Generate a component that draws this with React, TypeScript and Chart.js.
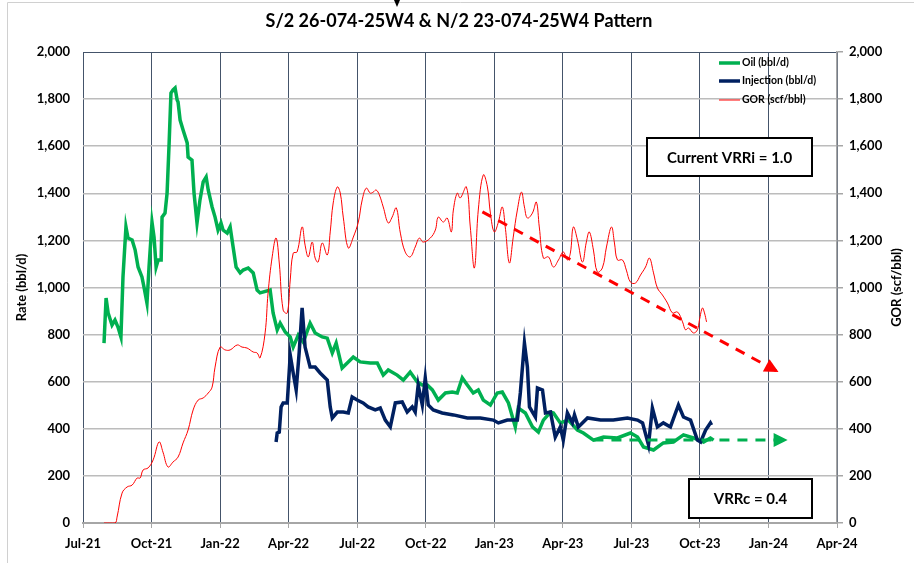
import React, { useEffect, useRef } from "react";
import { Chart, registerables } from "chart.js";

Chart.register(...registerables);

// x values are months elapsed since Jul-2021
const xTickLabels = ["Jul-21", "Oct-21", "Jan-22", "Apr-22", "Jul-22", "Oct-22", "Jan-23", "Apr-23", "Jul-23", "Oct-23", "Jan-24", "Apr-24"];

const oilMonths = [0.92, 1.01, 1.10, 1.27, 1.40, 1.53, 1.66, 1.75, 1.88, 1.97, 2.15, 2.28, 2.41, 2.58, 2.67, 2.80, 2.89, 3.02, 3.11, 3.20, 3.29, 3.42, 3.46, 3.59, 3.68, 3.77, 3.85, 3.94, 4.03, 4.12, 4.16, 4.25, 4.38, 4.56, 4.60, 4.77, 4.86, 4.99, 5.12, 5.26, 5.39, 5.48, 5.65, 5.78, 5.91, 6.04, 6.13, 6.31, 6.44, 6.57, 6.70, 6.88, 7.01, 7.23, 7.45, 7.62, 7.75, 8.19, 8.32, 8.50, 8.63, 8.85, 9.07, 9.20, 9.42, 9.64, 9.94, 10.16, 10.47, 10.69, 10.91, 11.08, 11.34, 11.61, 11.83, 12.13, 12.57, 12.88, 13.14, 13.36, 13.75, 14.02, 14.32, 14.63, 14.85, 15.07, 15.29, 15.55, 15.86, 16.16, 16.38, 16.60, 16.82, 17.08, 17.30, 17.52, 17.83, 18.13, 18.35, 18.62, 18.92, 19.05, 19.36, 19.67, 19.93, 20.15, 20.46, 20.59, 20.89, 21.24, 21.64, 21.90, 22.34, 22.78, 23.39, 23.96, 24.27, 24.53, 24.97, 25.40, 25.84, 26.28, 26.72, 27.16, 27.46, 27.60];
const oilRate = [764, 955, 892, 841, 862, 832, 790, 1045, 1257, 1210, 1202, 1160, 1087, 1045, 1002, 934, 1087, 1278, 1214, 1087, 1117, 1117, 1299, 1316, 1401, 1614, 1826, 1839, 1847, 1796, 1788, 1711, 1669, 1614, 1554, 1541, 1401, 1274, 1372, 1448, 1469, 1414, 1342, 1299, 1244, 1274, 1244, 1231, 1257, 1172, 1087, 1062, 1074, 1083, 1062, 989, 977, 989, 892, 820, 849, 811, 790, 747, 798, 768, 849, 807, 790, 785, 722, 764, 658, 684, 705, 684, 679, 679, 628, 650, 628, 607, 641, 599, 586, 586, 565, 522, 552, 556, 552, 616, 586, 552, 565, 522, 501, 552, 556, 510, 408, 488, 467, 408, 386, 437, 471, 467, 425, 437, 395, 382, 352, 365, 361, 382, 365, 323, 310, 340, 344, 374, 361, 344, 361, 352];

const injMonths = [8.45, 8.50, 8.59, 8.67, 8.76, 8.94, 9.07, 9.20, 9.33, 9.46, 9.59, 9.72, 9.94, 10.16, 10.38, 10.69, 10.82, 10.91, 11.13, 11.39, 11.61, 11.78, 12.00, 12.26, 12.48, 12.79, 13.01, 13.23, 13.45, 13.67, 13.97, 14.19, 14.41, 14.54, 14.67, 14.85, 14.98, 15.11, 15.33, 15.72, 16.21, 16.82, 17.39, 17.96, 18.18, 18.57, 19.01, 19.14, 19.32, 19.45, 19.54, 19.80, 19.89, 20.11, 20.24, 20.46, 20.67, 20.89, 21.02, 21.20, 21.42, 21.51, 21.68, 22.08, 22.65, 23.21, 23.83, 24.27, 24.49, 24.75, 24.92, 25.14, 25.40, 25.71, 26.06, 26.28, 26.59, 26.89, 27.03, 27.25, 27.46, 27.51];
const injRate = [344, 382, 386, 493, 510, 510, 713, 637, 565, 722, 913, 747, 662, 662, 637, 607, 493, 446, 471, 471, 467, 535, 522, 510, 493, 480, 488, 437, 408, 510, 514, 471, 493, 471, 586, 501, 616, 501, 480, 467, 459, 446, 446, 437, 425, 437, 437, 552, 764, 662, 493, 450, 573, 565, 467, 471, 365, 408, 352, 467, 425, 459, 408, 446, 437, 437, 446, 437, 425, 331, 488, 408, 425, 408, 501, 450, 437, 352, 344, 395, 425, 416];

const gorMonths = [0.92, 1.40, 1.49, 1.71, 1.93, 2.15, 2.37, 2.50, 2.63, 2.85, 3.07, 3.33, 3.50, 3.72, 3.94, 4.16, 4.38, 4.60, 4.82, 5.04, 5.26, 5.48, 5.65, 5.78, 6.00, 6.22, 6.44, 6.75, 6.96, 7.18, 7.45, 7.62, 7.75, 7.97, 8.10, 8.28, 8.45, 8.59, 8.76, 8.94, 9.07, 9.20, 9.37, 9.59, 9.72, 9.86, 10.03, 10.16, 10.29, 10.47, 10.69, 10.82, 10.95, 11.13, 11.26, 11.39, 11.61, 11.83, 12.05, 12.22, 12.40, 12.57, 12.70, 12.83, 12.97, 13.14, 13.36, 13.53, 13.71, 13.89, 14.10, 14.32, 14.54, 14.72, 14.89, 15.20, 15.42, 15.55, 15.77, 15.94, 16.12, 16.21, 16.38, 16.51, 16.78, 16.95, 17.13, 17.30, 17.52, 17.70, 17.83, 18.00, 18.18, 18.35, 18.48, 18.66, 18.83, 19.01, 19.19, 19.32, 19.45, 19.67, 19.84, 19.97, 20.15, 20.37, 20.59, 20.81, 21.02, 21.20, 21.33, 21.46, 21.64, 21.86, 22.03, 22.16, 22.34, 22.51, 22.73, 22.91, 23.13, 23.26, 23.39, 23.61, 23.78, 23.96, 24.18, 24.40, 24.62, 24.79, 24.97, 25.14, 25.36, 25.58, 25.80, 26.02, 26.24, 26.37, 26.50, 26.72, 26.89, 26.98, 27.11, 27.20, 27.29];
const gorValue = [0, 0, 25, 127, 153, 161, 191, 191, 225, 234, 268, 344, 301, 238, 259, 280, 340, 395, 480, 522, 531, 552, 577, 662, 747, 735, 735, 756, 747, 743, 726, 722, 701, 807, 977, 1130, 1210, 1104, 904, 892, 1032, 1146, 1151, 1257, 1180, 1130, 1193, 1125, 1108, 1189, 1138, 1236, 1359, 1427, 1401, 1299, 1168, 1214, 1278, 1372, 1422, 1401, 1405, 1414, 1393, 1342, 1274, 1299, 1338, 1231, 1151, 1130, 1172, 1210, 1193, 1210, 1244, 1299, 1278, 1295, 1236, 1329, 1401, 1380, 1427, 1257, 1083, 1329, 1478, 1427, 1316, 1236, 1278, 1342, 1257, 1104, 1214, 1329, 1405, 1342, 1295, 1316, 1363, 1257, 1125, 1130, 1087, 1117, 1151, 1117, 1146, 1257, 1202, 1108, 1193, 1236, 1159, 1066, 1083, 1172, 1257, 1189, 1117, 1117, 1074, 1023, 1019, 1053, 1087, 1125, 1062, 998, 968, 934, 892, 896, 854, 820, 828, 807, 820, 862, 913, 892, 854];

const gorTrendMonths = [17.48, 30.44];
const gorTrendValue = [1321, 641];
const oilTrendMonths = [22.34, 30.84];
const oilTrendValue = [352, 352];

const seriesNames = ["Oil (bbl/d)", "Injection (bbl/d)", "GOR (scf/bbl)"];
const chartTitle = "S/2 26-074-25W4 & N/2 23-074-25W4 Pattern";
const boxTexts = ["Current VRRi = 1.0", "VRRc = 0.4"];

const GREEN = "#00b050";
const NAVY = "#002060";
const RED = "#ff0000";
const FONT = "Lato, 'Open Sans', sans-serif";

const pts = (xs: number[], ys: number[]) => xs.map((x, i) => ({ x, y: ys[i] }));

const overlay = {
  id: "overlay",
  afterDatasetsDraw(chart: any) {
    const ctx = chart.ctx;
    chart.data.datasets.forEach((ds: any, i: number) => {
      if (!ds.arrow) return;
      const d = chart.getDatasetMeta(i).data;
      const a = d[d.length - 1];
      const b = d[d.length - 2];
      const ang = Math.atan2(a.y - b.y, a.x - b.x);
      const L = 14, W = 7;
      ctx.save();
      ctx.translate(a.x, a.y);
      ctx.rotate(ang);
      ctx.beginPath();
      ctx.moveTo(0, 0);
      ctx.lineTo(-L, -W);
      ctx.lineTo(-L, W);
      ctx.closePath();
      ctx.fillStyle = ds.borderColor;
      ctx.fill();
      ctx.restore();
    });
  },
  afterDraw(chart: any) {
    const ctx = chart.ctx;
    const ca = chart.chartArea;
    ctx.save();
    // outer frame
    ctx.strokeStyle = "#d0d0d0";
    ctx.lineWidth = 1;
    ctx.beginPath();
    ctx.moveTo(7.5, 563);
    ctx.lineTo(7.5, 2.5);
    ctx.lineTo(914, 2.5);
    ctx.stroke();
    ctx.fillStyle = "#000";
    ctx.beginPath();
    ctx.moveTo(394, 0);
    ctx.lineTo(400, 0);
    ctx.lineTo(397, 7);
    ctx.closePath();
    ctx.fill();
    // title
    ctx.fillStyle = "#000";
    ctx.font = `bold 18px ${FONT}`;
    ctx.textAlign = "center";
    ctx.textBaseline = "middle";
    ctx.fillText(chartTitle, 459, 21);
    // axis titles
    ctx.font = `bold 13px ${FONT}`;
    ctx.save();
    ctx.translate(22, (ca.top + ca.bottom) / 2);
    ctx.rotate(-Math.PI / 2);
    ctx.fillText("Rate (bbl/d)", 0, 0);
    ctx.restore();
    ctx.save();
    ctx.translate(897, (ca.top + ca.bottom) / 2);
    ctx.rotate(-Math.PI / 2);
    ctx.fillText("GOR (scf/bbl)", 0, 0);
    ctx.restore();
    // legend
    const colors = [GREEN, NAVY, RED];
    const widths = [3.5, 3.5, 1];
    const lx = ca.right - 118;
    const rows = [ca.top + 11, ca.top + 29, ca.top + 48];
    ctx.textAlign = "left";
    ctx.font = `bold 10.5px ${FONT}`;
    seriesNames.forEach((n, i) => {
      ctx.strokeStyle = colors[i];
      ctx.lineWidth = widths[i];
      ctx.beginPath();
      ctx.moveTo(lx, rows[i]);
      ctx.lineTo(lx + 21, rows[i]);
      ctx.stroke();
      ctx.fillStyle = "#000";
      ctx.fillText(n, lx + 23, rows[i]);
    });
    // text boxes
    const boxes = [
      { x: 647, y: 138, w: 165, h: 38 },
      { x: 689, y: 479, w: 123, h: 39 },
    ];
    boxes.forEach((b, i) => {
      ctx.fillStyle = "#fff";
      ctx.fillRect(b.x, b.y, b.w, b.h);
      ctx.strokeStyle = "#000";
      ctx.lineWidth = 2;
      ctx.strokeRect(b.x, b.y, b.w, b.h);
      ctx.fillStyle = "#000";
      ctx.font = `bold 15px ${FONT}`;
      ctx.textAlign = "center";
      ctx.fillText(boxTexts[i], b.x + b.w / 2, b.y + b.h / 2 + 1);
    });
    ctx.restore();
  },
};

export default function App() {
  const ref = useRef<HTMLCanvasElement>(null);
  useEffect(() => {
    if (!ref.current) return;
    const tickFont = { family: FONT, size: 13, weight: "bold" as const };
    const chart = new Chart(ref.current, {
      type: "line",
      data: {
        datasets: [
          { label: "gorTrend", data: pts(gorTrendMonths, gorTrendValue), borderColor: RED, borderWidth: 3, borderDash: [10, 8], pointRadius: 0, yAxisID: "y2", order: 0, arrow: true } as any,
          { label: "oilTrend", data: pts(oilTrendMonths, oilTrendValue), borderColor: GREEN, borderWidth: 3, borderDash: [10, 8], pointRadius: 0, yAxisID: "y", order: 0, arrow: true } as any,
          { label: seriesNames[2], data: pts(gorMonths, gorValue), borderColor: RED, borderWidth: 1, pointRadius: 0, tension: 0.4, yAxisID: "y2", order: 1 },
          { label: seriesNames[1], data: pts(injMonths, injRate), borderColor: NAVY, borderWidth: 3.5, pointRadius: 0, tension: 0, yAxisID: "y", order: 2 },
          { label: seriesNames[0], data: pts(oilMonths, oilRate), borderColor: GREEN, borderWidth: 3.5, pointRadius: 0, tension: 0, yAxisID: "y", order: 3 },
        ],
      },
      options: {
        responsive: false,
        animation: false,
        devicePixelRatio: 1,
        layout: { padding: { top: 52, left: 0, right: 0, bottom: 0 } },
        plugins: { legend: { display: false }, tooltip: { enabled: false }, title: { display: false } },
        scales: {
          x: {
            type: "linear",
            min: 0,
            max: 33,
            afterFit: (s: any) => { s.height = 40; },
            afterBuildTicks: (s: any) => { s.ticks = xTickLabels.map((_, i) => ({ value: i * 3 })); },
            ticks: {
              stepSize: 3,
              color: "#000",
              font: tickFont,
              padding: 8,
              maxRotation: 0,
              autoSkip: false,
              callback: (v: any) => xTickLabels[Math.round(Number(v) / 3)] ?? "",
            },
            grid: { color: "#44546a", lineWidth: 1, tickLength: 5, tickColor: "#a6a6a6" },
            border: { color: "#a6a6a6", width: 2 },
          },
          y: {
            position: "left",
            min: 0,
            max: 2000,
            afterFit: (s: any) => { s.width = 83; },
            ticks: { stepSize: 200, color: "#000", font: tickFont, padding: 13, callback: (v: any) => Number(v).toLocaleString("en-US") },
            grid: { color: (c: any) => (c.tick && c.tick.value === 2000 ? "#44546a" : "#bcbcbc"), lineWidth: (c: any) => (c.tick && c.tick.value === 2000 ? 1 : 1.5), drawTicks: false },
            border: { display: false },
          },
          y2: {
            position: "right",
            min: 0,
            max: 2000,
            afterFit: (s: any) => { s.width = 77; },
            ticks: { stepSize: 200, color: "#000", font: tickFont, padding: 6, callback: (v: any) => Number(v).toLocaleString("en-US") },
            grid: { drawOnChartArea: false, drawTicks: true, tickLength: 6, color: "#a6a6a6", lineWidth: 1.5 },
            border: { color: "#a6a6a6", width: 1.5 },
          },
        },
      },
      plugins: [overlay],
    });
    return () => chart.destroy();
  }, []);
  return (
    <div style={{ position: "fixed", left: 0, top: 0, width: 914, height: 563, background: "#fff" }}>
      <canvas ref={ref} width={914} height={563} style={{ display: "block", width: 914, height: 563 }} />
    </div>
  );
}
